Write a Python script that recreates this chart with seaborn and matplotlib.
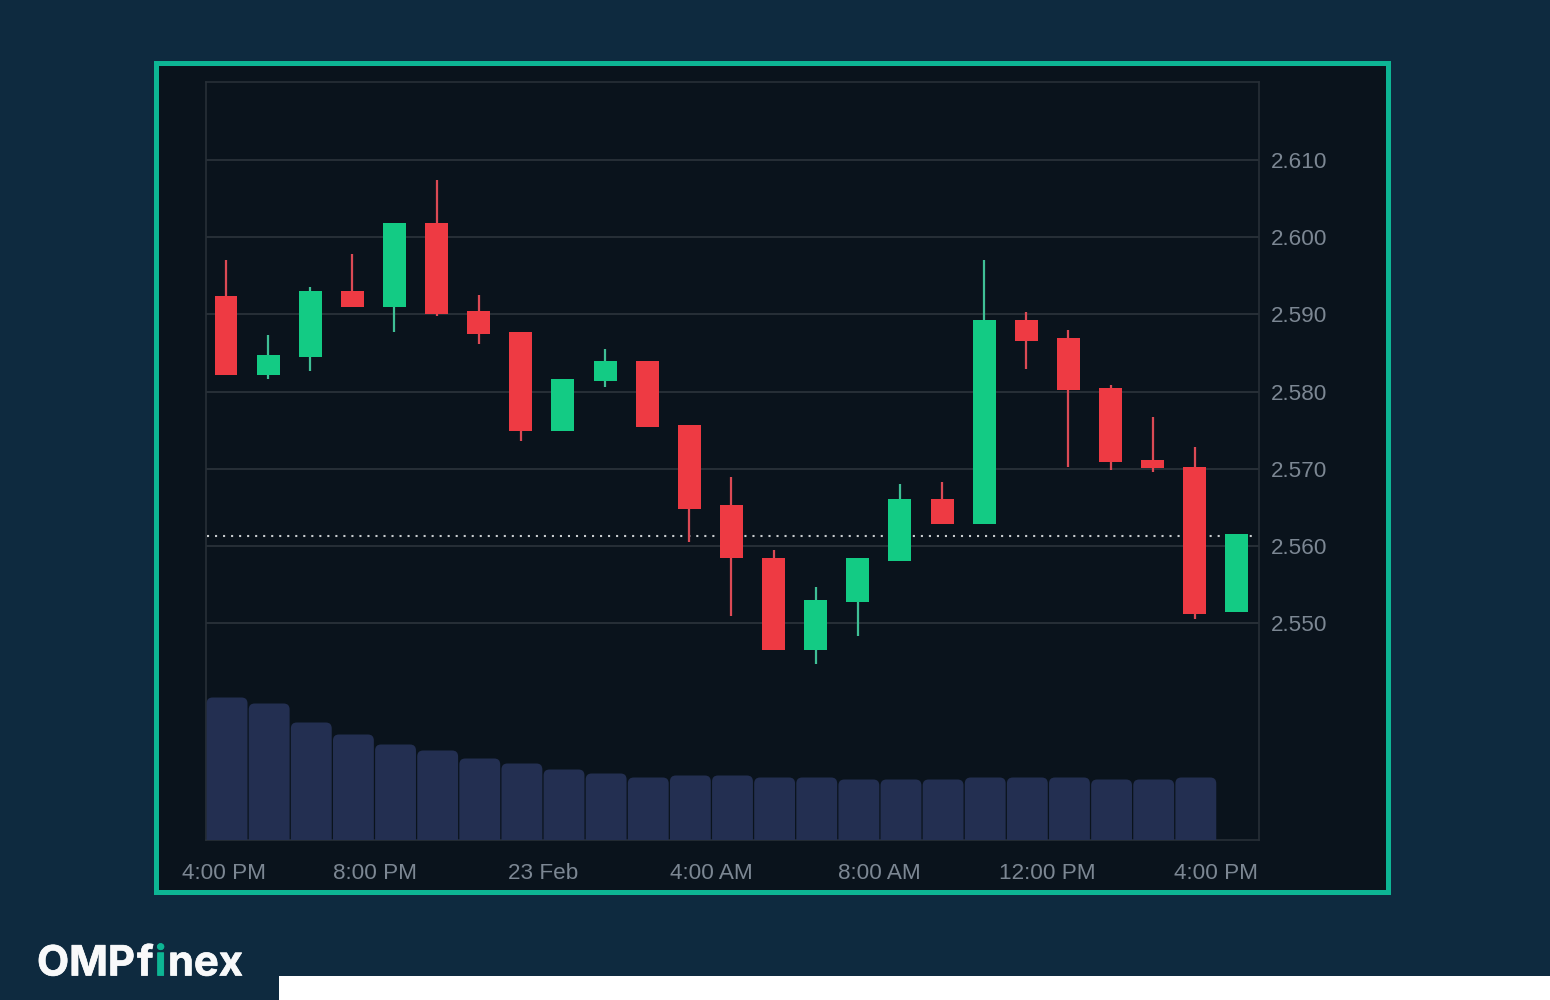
import matplotlib
matplotlib.use("Agg")
import matplotlib.pyplot as plt
import matplotlib.patheffects as pe
from matplotlib.patches import Rectangle, FancyBboxPatch
import numpy as np
import pandas as pd
import seaborn as sns

# ---- data ----
opens = [2.5924, 2.5821, 2.5845, 2.5930, 2.5909, 2.6018, 2.5904, 2.5877, 2.5749, 2.5814, 2.5840, 2.5757, 2.5653,
         2.5584, 2.5466, 2.5527, 2.5581, 2.5661, 2.5629, 2.5893, 2.5869, 2.5805, 2.5711, 2.5703, 2.5514]
closes = [2.5821, 2.5847, 2.5930, 2.5909, 2.6018, 2.5900, 2.5874, 2.5749, 2.5816, 2.5840, 2.5754, 2.5648, 2.5584,
          2.5466, 2.5530, 2.5584, 2.5661, 2.5629, 2.5893, 2.5866, 2.5802, 2.5709, 2.5701, 2.5512, 2.5615]
highs = [2.5970, 2.5873, 2.5935, 2.5978, 2.6018, 2.6074, 2.5925, 2.5877, 2.5817, 2.5855, 2.5840, 2.5757, 2.5690,
         2.5595, 2.5547, 2.5584, 2.5680, 2.5683, 2.5970, 2.5903, 2.5880, 2.5808, 2.5767, 2.5728, 2.5615]
lows = [2.5821, 2.5816, 2.5827, 2.5909, 2.5877, 2.5898, 2.5862, 2.5736, 2.5749, 2.5806, 2.5754, 2.5605, 2.5509,
        2.5466, 2.5447, 2.5484, 2.5581, 2.5629, 2.5629, 2.5829, 2.5703, 2.5698, 2.5696, 2.5506, 2.5514]
volumes = [142, 136, 117, 105, 95, 89, 81, 76, 70, 66, 62, 64, 64, 62, 62, 60, 60, 60, 62, 62, 62, 60, 60, 62]
last_price = 2.5613
price_ticks = [2.55, 2.56, 2.57, 2.58, 2.59, 2.60, 2.61]
price_labels = ["2.550", "2.560", "2.570", "2.580", "2.590", "2.600", "2.610"]
time_ticks = [-0.05, 3.54, 7.53, 11.52, 15.52, 19.51, 23.5]
time_labels = ["4:00 PM", "8:00 PM", "23 Feb", "4:00 AM", "8:00 AM", "12:00 PM", "4:00 PM"]

# ---- styling ----
OUTER = "#0E2A3F"
PANEL = "#0A131C"
BORDER = "#0DB594"
GRID = "#272F37"
TEXT = "#7C8793"
RED = "#EE3A43"
GREEN = "#13CB84"
RED_W = "#DC4A55"
GREEN_W = "#3FBF95"
VOL = "#232F51"

sns.set_theme(style="dark", rc={"axes.facecolor": PANEL, "figure.facecolor": OUTER})
plt.rcParams["font.family"] = ["Liberation Sans", "DejaVu Sans"]

W, H = 1550, 1000
fig = plt.figure(figsize=(W / 100, H / 100), dpi=100, facecolor=OUTER)

def px_box(x0, y0, x1, y1):
    return [x0 / W, 1 - y1 / H, (x1 - x0) / W, (y1 - y0) / H]

# chart panel with teal frame, and the white strip at the bottom
l, b, w_, h_ = px_box(156.2, 63.2, 1388.2, 892.2)
fig.add_artist(Rectangle((l, b), w_, h_, transform=fig.transFigure, facecolor=PANEL, edgecolor=BORDER,
                         linewidth=3.6, zorder=-5))
l, b, w_, h_ = px_box(279, 976, 1550, 1000)
fig.add_artist(Rectangle((l, b), w_, h_, transform=fig.transFigure, facecolor="white", edgecolor="none", zorder=-5))

ax = fig.add_axes(px_box(206, 82, 1259, 839.5))
ax.set_facecolor(PANEL)
ax.set_ylim(2.5220, 2.6201)

# ---- volume bars (twin axis shares x with the candles) ----
vol_ax = ax.twinx()
vol_ax.set_zorder(ax.get_zorder() + 1)
vol_ax.patch.set_visible(False)
vol_df = pd.DataFrame({"i": np.arange(len(volumes)), "volume": volumes})
sns.barplot(data=vol_df, x="i", y="volume", native_scale=True, width=0.97, color=VOL, saturation=1,
            ax=vol_ax, errorbar=None)
vol_ax.set_ylim(0, 757.5)
aspect = 42.12
bar_shift = 0.025
for bar in list(vol_ax.patches):
    x0, bw, bh = bar.get_x(), bar.get_width(), bar.get_height()
    bar.remove()
    vol_ax.add_patch(FancyBboxPatch((x0 + bar_shift, -30), bw, bh + 30, boxstyle="round,pad=0,rounding_size=0.14",
                                    mutation_aspect=aspect, facecolor=VOL, edgecolor="none"))
vol_ax.set_xlabel("")
vol_ax.set_ylabel("")
vol_ax.set_yticks([])
vol_ax.tick_params(left=False, right=False, bottom=False, labelbottom=False)
for s in vol_ax.spines.values():
    s.set_visible(False)

# ---- price axis ----
ax.set_xlim(-0.475, 24.525)
ax.yaxis.tick_right()
ax.set_yticks(price_ticks, price_labels)
ax.set_xticks(time_ticks, time_labels)
ax.tick_params(axis="y", length=0, pad=8.6, labelsize=16.2, labelcolor=TEXT)
ax.tick_params(axis="x", length=0, pad=16.8, labelsize=16.2, labelcolor=TEXT)
ax.grid(False)
ax.hlines(price_ticks, 0, 1, transform=ax.get_yaxis_transform(), color=GRID, linewidth=1.4, zorder=1)
for s in ax.spines.values():
    s.set_visible(True)
    s.set_color(GRID)
    s.set_linewidth(1.2)
ax.hlines(last_price, 0.001, 0.996, transform=ax.get_yaxis_transform(), color="#C9CDD0", linewidth=1.5,
          linestyles=[(0, (1, 2.85))], zorder=2)

# ---- candles ----
idx = np.arange(len(opens))
op, cl, hi, lo = map(np.array, (opens, closes, highs, lows))
up = cl > op
ax.vlines(idx, lo, hi, colors=[GREEN_W if u else RED_W for u in up], linewidth=1.6, zorder=3)
ax.bar(idx, np.abs(cl - op), bottom=np.minimum(op, cl), width=0.545,
       color=[GREEN if u else RED for u in up], linewidth=0, zorder=4)

# ---- logo ----
logo = dict(family="Inter", fontweight="bold", fontsize=30, va="baseline", ha="left")
fx_white = [pe.withStroke(linewidth=0.5, foreground="#F8F9FA")]
fx_teal = [pe.withStroke(linewidth=0.5, foreground=BORDER)]
fig.text(37 / W, 1 - 975.5 / H, "OMP", color="#F8F9FA", path_effects=fx_white, **logo)
fig.text(137 / W, 1 - 975.5 / H, "f", color="#F8F9FA", path_effects=fx_white, **logo)
fig.text(155 / W, 1 - 975.5 / H, "i", color=BORDER, path_effects=fx_teal, **logo)
fig.text(168 / W, 1 - 975.5 / H, "nex", color="#F8F9FA", path_effects=fx_white, **logo)

fig.savefig("out.png", dpi=100, facecolor=OUTER)
